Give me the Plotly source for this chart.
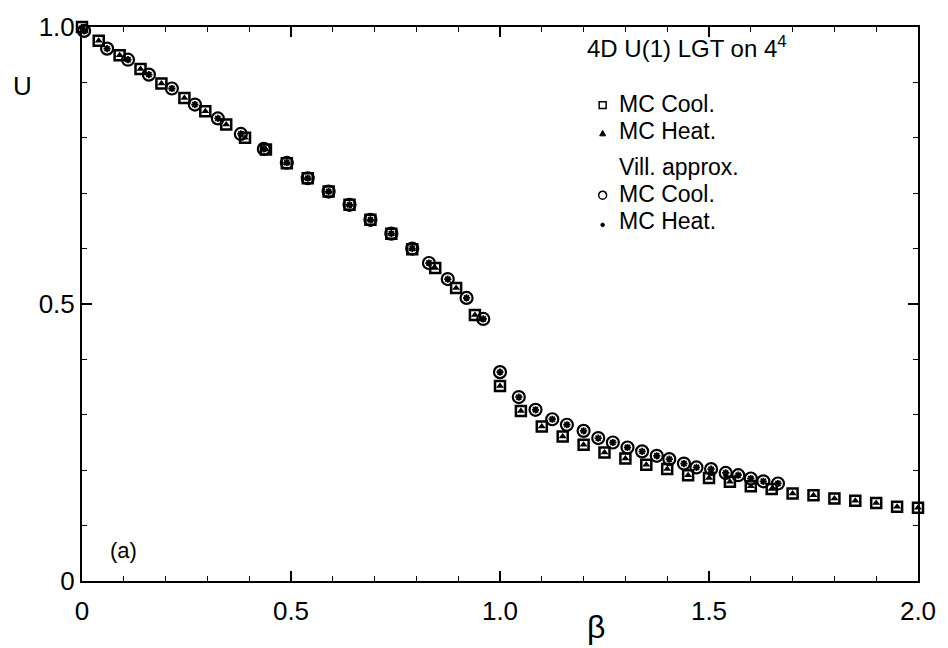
import plotly.graph_objects as go

# Internal energy U(beta) for the 4D U(1) lattice gauge theory on a 4^4 lattice.
# Wilson action, MC cooling runs
beta_wilson = [0.0, 0.04, 0.09, 0.14, 0.19, 0.245, 0.295, 0.345, 0.39, 0.44,
               0.49, 0.54, 0.59, 0.64, 0.69, 0.74, 0.79, 0.845, 0.895, 0.94,
               1.0, 1.05, 1.1, 1.15, 1.2, 1.25, 1.3, 1.35, 1.4, 1.45,
               1.5, 1.55, 1.6, 1.65, 1.7, 1.75, 1.8, 1.85, 1.9, 1.95, 2.0]
u_wilson_cool = [1.0, 0.975, 0.949, 0.924, 0.898, 0.872, 0.848, 0.824, 0.800, 0.779,
                 0.754, 0.727, 0.703, 0.679, 0.652, 0.627, 0.599, 0.565, 0.529, 0.480,
                 0.352, 0.307, 0.279, 0.261, 0.246, 0.232, 0.221, 0.210, 0.202, 0.191,
                 0.186, 0.179, 0.171, 0.166, 0.158, 0.155, 0.149, 0.145, 0.141, 0.134, 0.132]
# heating runs coincide with the cooling runs within the symbol size
u_wilson_heat = list(u_wilson_cool)

# Villain approximation, MC cooling runs
beta_villain = [0.005, 0.06, 0.11, 0.16, 0.215, 0.27, 0.325, 0.38, 0.435, 0.49,
                0.54, 0.59, 0.64, 0.69, 0.74, 0.79, 0.83, 0.875, 0.92, 0.96,
                1.0, 1.045, 1.085, 1.125, 1.16, 1.2, 1.235, 1.27, 1.305, 1.34,
                1.375, 1.405, 1.44, 1.47, 1.505, 1.54, 1.57, 1.6, 1.63, 1.665]
u_villain_cool = [0.993, 0.961, 0.941, 0.914, 0.889, 0.860, 0.835, 0.807, 0.780, 0.755,
                  0.727, 0.703, 0.679, 0.652, 0.627, 0.600, 0.574, 0.545, 0.511, 0.473,
                  0.377, 0.332, 0.309, 0.292, 0.282, 0.271, 0.258, 0.250, 0.241, 0.234,
                  0.226, 0.220, 0.212, 0.205, 0.202, 0.195, 0.191, 0.185, 0.180, 0.176]
u_villain_heat = list(u_villain_cool)

x_tick_vals = [0, 0.5, 1.0, 1.5, 2.0]
x_tick_text = ["0", "0.5", "1.0", "1.5", "2.0"]
y_tick_vals = [0, 0.5, 1.0]
y_tick_text = ["0", "0.5", "1.0"]

FONT = "Liberation Sans, Arial, Helvetica, sans-serif"
W, H = 948, 648
ML, MR, MT, MB = 82, 23, 21, 67
PW, PH = W - ML - MR, H - MT - MB


def px(x):
    return (x - ML) / PW


def py(y):
    return (H - MB - y) / PH


fig = go.Figure()

fig.add_trace(go.Scatter(
    x=beta_wilson, y=u_wilson_cool, mode="markers", name="MC Cool.",
    marker=dict(symbol="square-open", size=10, color="black", line=dict(width=2.5, color="black")),
    cliponaxis=False,
))
fig.add_trace(go.Scatter(
    x=beta_wilson, y=u_wilson_heat, mode="markers", name="MC Heat.",
    marker=dict(symbol="triangle-up", size=7, color="black", line=dict(width=0)),
    cliponaxis=False,
))
fig.add_trace(go.Scatter(
    x=beta_villain, y=u_villain_cool, mode="markers", name="Vill. MC Cool.",
    marker=dict(symbol="circle-open", size=12, color="black", line=dict(width=2.2, color="black")),
    cliponaxis=False,
))
fig.add_trace(go.Scatter(
    x=beta_villain, y=u_villain_heat, mode="markers", name="Vill. MC Heat.",
    marker=dict(symbol="asterisk-open", size=6, color="black", line=dict(width=1.8, color="black")),
    cliponaxis=False,
))

axis_common = dict(
    showline=True, linewidth=2, linecolor="black", mirror="ticks",
    ticks="inside", ticklen=10, tickwidth=1.5, tickcolor="black",
    showgrid=False, zeroline=False,
    tickfont=dict(family=FONT, size=26, color="black"),
    minor=dict(ticks="inside", ticklen=5, tickwidth=1.2, tickcolor="black", dtick=0.1, tick0=0, showgrid=False),
)

fig.update_xaxes(range=[0, 2], tickmode="array", tickvals=x_tick_vals, ticktext=x_tick_text,
                 ticklabelstandoff=6, **axis_common)
fig.update_yaxes(range=[0, 1], tickmode="array", tickvals=y_tick_vals, ticktext=y_tick_text,
                 **axis_common)

entry_size = 23
annotations = [
    dict(text="β", x=px(600), y=py(628), font=dict(size=32)),
    dict(text="U", x=px(22), y=py(81), font=dict(size=26)),
    dict(text="(a)", x=px(124), y=py(550), font=dict(size=22)),
    dict(text="4D U(1) LGT on 4<sup>4</sup>", x=px(590), y=py(41), xanchor="left", font=dict(size=24)),
    dict(text="MC Cool.", x=px(622), y=py(99), xanchor="left", font=dict(size=entry_size)),
    dict(text="MC Heat.", x=px(622), y=py(126), xanchor="left", font=dict(size=entry_size)),
    dict(text="Vill. approx.", x=px(622), y=py(163), xanchor="left", font=dict(size=entry_size)),
    dict(text="MC Cool.", x=px(622), y=py(190), xanchor="left", font=dict(size=entry_size)),
    dict(text="MC Heat.", x=px(622), y=py(217), xanchor="left", font=dict(size=entry_size)),
]
for a in annotations:
    a.setdefault("xanchor", "center")
    a.update(xref="paper", yref="paper", yanchor="middle", showarrow=False, borderpad=0)
    a["font"] = dict(family=FONT, color="black", **a["font"])

# legend key symbols
sx = 607
shapes = [
    dict(type="rect", x0=px(sx - 3.5), x1=px(sx + 3.5), y0=py(103.5), y1=py(96.5),
         line=dict(color="black", width=1.5), fillcolor="white"),
    dict(type="path",
         path=f"M {px(sx - 3)},{py(131)} L {px(sx + 3)},{py(131)} L {px(sx)},{py(125.5)} Z",
         line=dict(color="black", width=1), fillcolor="black"),
    dict(type="circle", x0=px(sx - 4), x1=px(sx + 4), y0=py(195), y1=py(187),
         line=dict(color="black", width=1.5), fillcolor="white"),
    dict(type="circle", x0=px(sx - 1.8), x1=px(sx + 1.8), y0=py(222.8), y1=py(219.2),
         line=dict(color="black", width=1), fillcolor="black"),
]
for s in shapes:
    s.update(xref="paper", yref="paper")

fig.update_layout(
    width=W, height=H,
    margin=dict(l=ML, r=MR, t=MT, b=MB),
    paper_bgcolor="white", plot_bgcolor="white",
    showlegend=False,
    annotations=annotations,
    shapes=shapes,
)

fig.write_html("out.html")
